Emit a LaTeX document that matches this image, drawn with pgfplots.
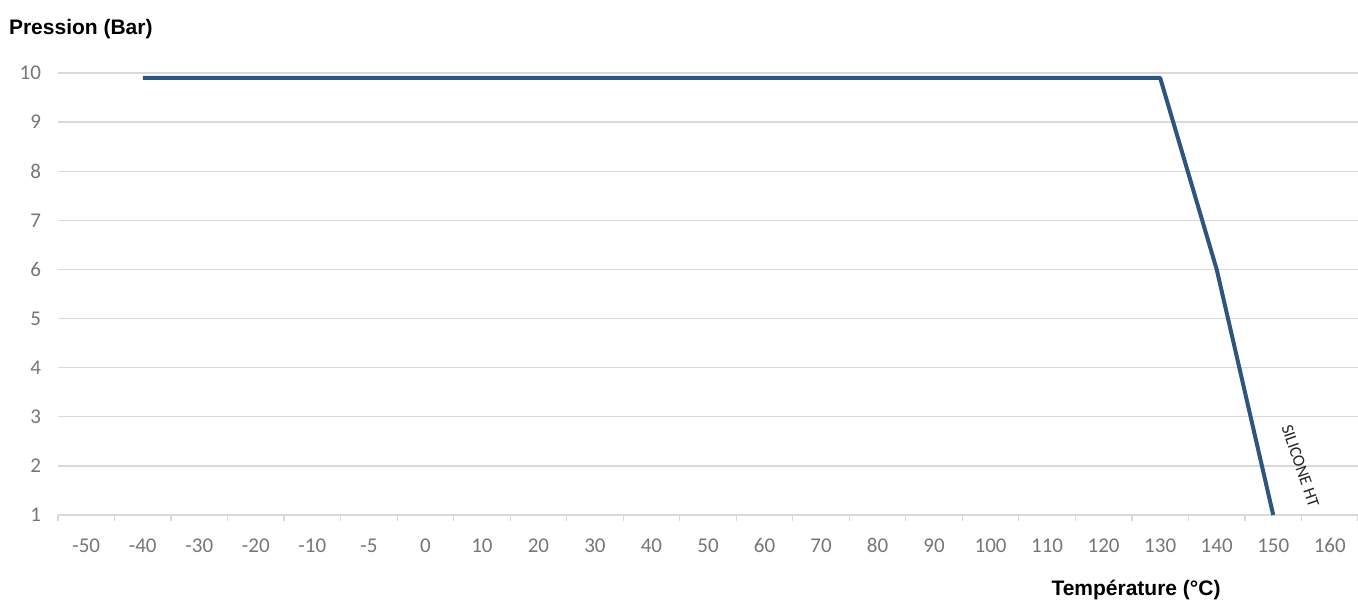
\documentclass[border=0pt]{standalone}
\usepackage{fontspec}
\setmainfont{Liberation Sans}
\newfontfamily\calibri{Carlito}
\usepackage{pgfplots}
\pgfplotsset{compat=1.18}
\definecolor{lineblue}{RGB}{46,84,128}
\definecolor{gridgray}{RGB}{217,217,217}
\definecolor{ticktext}{RGB}{118,118,118}

\begin{document}
\begin{tikzpicture}
\path[use as bounding box] (-29pt,-43pt) rectangle (650pt,257.5pt);
\begin{axis}[
    at={(0,0)}, anchor=south west,
    scale only axis,
    width=650pt, height=221pt,
    xmin=-0.5, xmax=22.5,
    ymin=1, ymax=10,
    xtick={0,...,22},
    xticklabels={-50,-40,-30,-20,-10,-5,0,10,20,30,40,50,60,70,80,90,100,110,120,130,140,150,160},
    minor xtick={-0.5,0.5,...,22.5},
    ytick={1,...,10},
    major tick length=0pt,
    minor tick length=3pt,
    tick align=outside,
    minor tick style={gridgray, line width=0.6pt},
    xtick pos=bottom,
    axis line style={draw=none},
    ymajorgrids,
    grid style={gridgray, line width=0.7pt},
    /pgf/number format/assume math mode=true,
    ticklabel style={font=\calibri\fontsize{10.5}{12}\selectfont, text=ticktext},
    xticklabel style={yshift=-7pt, text height=1.6ex, text depth=0.2ex},
    yticklabel style={xshift=-5pt},
    clip=false,
]
\addplot[lineblue, line width=2pt, line join=round] coordinates {
    (1,9.9) (19,9.9) (20,6) (21,1)
};
\node[rotate=-71, font=\calibri\fontsize{8.5}{10}\selectfont, text=black!85] at (axis cs:21.48,2.0) {SILICONE HT};
\end{axis}
\node[anchor=west, font=\bfseries\fontsize{10.5}{12}\selectfont] at (-28pt,243pt) {Pression (Bar)};
\node[font=\bfseries\fontsize{10.5}{12}\selectfont] at (539pt,-37.5pt) {Température (°C)};
\end{tikzpicture}
\end{document}
